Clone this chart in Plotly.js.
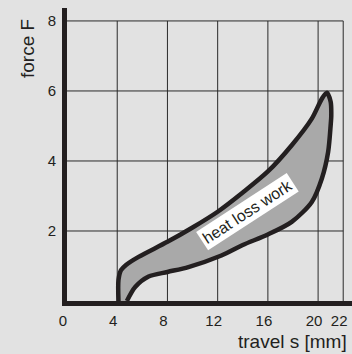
<!DOCTYPE html>
<html>
<head>
<meta charset="utf-8">
<script src="https://cdn.plot.ly/plotly-3.0.1.min.js"></script>
<style>html,body{margin:0;padding:0;background:#e0e0e0;}#chart{width:352px;height:354px;}</style>
</head>
<body>
<div id="chart"></div>
<script>
// Loading (upper) branch, travel s [mm] vs force F
const loadX = [4.1, 4.1, 4.3, 4.7, 5.7, 8, 10, 12, 14, 16, 17.9, 19.5, 20.3, 20.7];
const loadY = [0, 0.6, 0.88, 1.03, 1.26, 1.69, 2.1, 2.55, 3.1, 3.7, 4.45, 5.21, 5.78, 5.95];
// Unloading (lower) branch, from the tip back down
const unloadX = [21.0, 21.05, 21.0, 20.8, 20.3, 19.5, 17.9, 16, 14, 12.3, 9.67, 8, 6.5, 5.43, 4.77];
const unloadY = [5.69, 5.3, 5.02, 4.26, 3.5, 2.83, 2.26, 1.9, 1.6, 1.3, 0.97, 0.83, 0.7, 0.4, 0];

const xTicks = [0, 4, 8, 12, 16, 20, 22];
const yTicks = [2, 4, 6, 8];
const xTitle = 'travel s [mm]';
const yTitle = 'force F';
const areaLabel = 'heat loss work';

const ink = '#231f20';
const font = 'Liberation Sans, Arial, Helvetica, sans-serif';

const xMax = Math.max(...xTicks);
const yMax = Math.max(...yTicks);
const shapes = [];
xTicks.filter(v => v > 0).forEach(v => shapes.push({type:'line', xref:'x', yref:'y', x0:v, x1:v, y0:0, y1:yMax, line:{color:'#2a2a2a', width:1}, layer:'below'}));
yTicks.forEach(v => shapes.push({type:'line', xref:'x', yref:'y', x0:0, x1:xMax, y0:v, y1:v, line:{color:'#2a2a2a', width:1}, layer:'below'}));

const trace = {
  x: loadX.concat(unloadX),
  y: loadY.concat(unloadY),
  type: 'scatter', mode: 'lines', fill: 'toself',
  fillcolor: '#a9a9a9',
  line: {color: ink, width: 4.5, shape: 'spline', smoothing: 0.8},
  hoverinfo: 'skip'
};

const layout = {
  width: 352, height: 354,
  margin: {l: 67, r: 0, t: 8, b: 53},
  paper_bgcolor: '#e2e2e2', plot_bgcolor: '#e2e2e2',
  showlegend: false,
  font: {family: font, color: ink, size: 15},
  xaxis: {range: [0, 22.7], tickvals: xTicks, ticktext: xTicks.map(String), showgrid: false, zeroline: false,
          showline: true, linecolor: ink, linewidth: 5, ticks: '', ticklabelshift: -4, ticklabelstandoff: 2,
          tickfont: {size: 15, color: ink}, fixedrange: true},
  yaxis: {range: [0, 8.37], tickvals: yTicks, ticktext: yTicks.map(String), showgrid: false, zeroline: false,
          showline: true, linecolor: ink, linewidth: 5, ticks: '', ticklabelstandoff: 3,
          tickfont: {size: 15, color: ink}, fixedrange: true},
  shapes: shapes,
  annotations: [
    {text: areaLabel, x: 14.4, y: 2.55, xref: 'x', yref: 'y', showarrow: false, textangle: -33,
     bgcolor: '#ffffff', borderpad: 2, font: {size: 16, color: ink, family: font}},
    {text: yTitle, xref: 'paper', yref: 'paper', x: 0, y: 1, xanchor: 'center', yanchor: 'middle',
     xshift: -40, yshift: -41, textangle: -90, showarrow: false, font: {size: 19, color: ink, family: font}},
    {text: xTitle, xref: 'paper', yref: 'paper', x: 1, y: 0, xanchor: 'right', yanchor: 'middle',
     xshift: -3, yshift: -40, showarrow: false, font: {size: 19, color: ink, family: font}}
  ]
};

Plotly.newPlot('chart', [trace], layout, {displayModeBar: false, staticPlot: true});
</script>
</body>
</html>
